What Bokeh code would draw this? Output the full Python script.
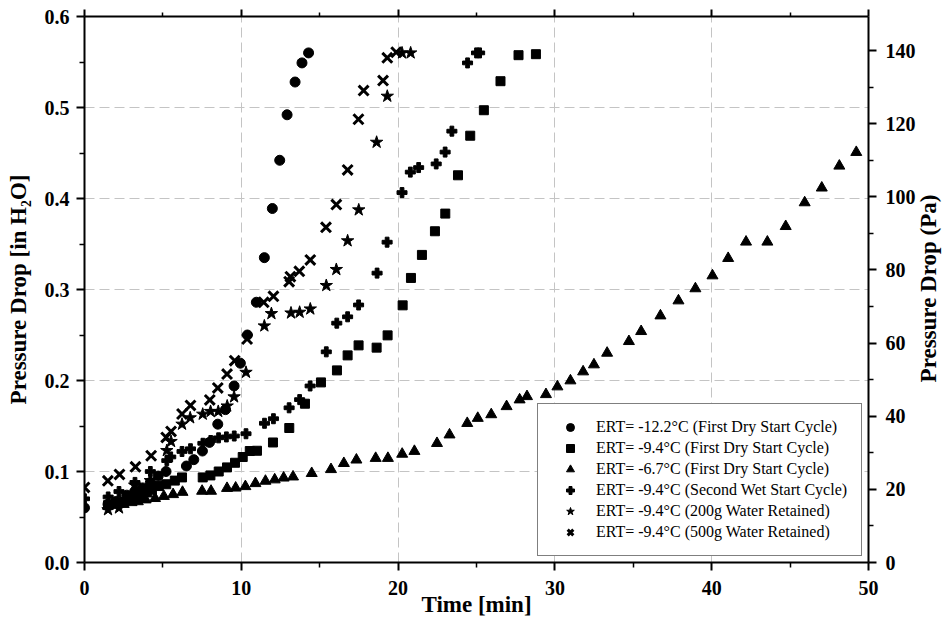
import math
from bokeh.plotting import figure
from bokeh.models import (Range1d, LinearAxis, FixedTicker, PrintfTickFormatter, Legend, LegendItem,
                          CustomJSTickFormatter, Label)
from bokeh.embed import file_html
from bokeh.resources import INLINE

# ---------------- data ----------------
t_c122 = [0, 1.5, 2.0, 2.7, 3.2, 3.7, 4.2, 4.7, 5.2, 6.5, 6.97, 7.52, 7.97, 8.5, 8.99, 9.54, 9.94,
          10.39, 10.96, 11.47, 11.98, 12.45, 12.92, 13.43, 13.87, 14.29]
dp_c122 = [0.060, 0.064, 0.067, 0.074, 0.078, 0.082, 0.088, 0.095, 0.100, 0.106, 0.113, 0.1225, 0.132,
           0.152, 0.168, 0.194, 0.219, 0.250, 0.286, 0.335, 0.389, 0.442, 0.492, 0.528, 0.549, 0.560]

t_c94 = [1.5, 2.0, 2.5, 3.0, 3.5, 4.0, 4.3, 4.74, 5.21, 5.76, 6.22, 7.54, 8.03, 8.56, 9.09, 9.6, 10.09,
         10.54, 11.0, 12.02, 13.06, 14.06, 15.08, 16.1, 16.78, 17.48, 18.63, 19.33, 20.29, 20.82, 21.52,
         22.35, 23.01, 23.82, 24.6, 25.47, 26.53, 27.68, 28.79]
dp_c94 = [0.063, 0.065, 0.067, 0.070, 0.073, 0.077, 0.080, 0.084, 0.086, 0.090, 0.0935, 0.0935, 0.0957,
          0.100, 0.1045, 0.1096, 0.1159, 0.1225, 0.1228, 0.1319, 0.1478, 0.1745, 0.1979, 0.2111, 0.2276,
          0.2386, 0.2361, 0.2496, 0.2826, 0.3127, 0.338, 0.364, 0.3834, 0.4255, 0.469, 0.497, 0.5289,
          0.5575, 0.5586]

t_c67 = [1.5, 2.0, 2.5, 3.0, 3.4, 3.9, 4.5, 5.06, 5.65, 6.25, 7.5, 8.07, 9.09, 9.64, 10.26, 10.9, 11.54,
         12.13, 12.7, 13.3, 14.49, 15.72, 16.54, 17.34, 18.57, 19.35, 20.26, 21.04, 22.48, 23.28, 24.41,
         25.08, 25.94, 26.92, 27.75, 28.22, 29.43, 30.16, 30.99, 31.8, 32.49, 33.33, 34.72, 35.5, 36.73,
         37.88, 38.96, 40.05, 41.05, 42.19, 43.55, 44.72, 45.93, 47.02, 48.14, 49.22]
dp_c67 = [0.062, 0.063, 0.064, 0.066, 0.067, 0.069, 0.0705, 0.0728, 0.0748, 0.0773, 0.0785, 0.0785,
          0.0816, 0.082, 0.0836, 0.0869, 0.0895, 0.091, 0.093, 0.0942, 0.098, 0.1023, 0.109, 0.1128,
          0.1146, 0.1146, 0.1192, 0.1223, 0.131, 0.1404, 0.153, 0.1586, 0.1626, 0.1715, 0.1789, 0.1825,
          0.1847, 0.1932, 0.1998, 0.2097, 0.2174, 0.2302, 0.243, 0.254, 0.2712, 0.2877, 0.301, 0.3152,
          0.3343, 0.3523, 0.3523, 0.3694, 0.3955, 0.4117, 0.4358, 0.4508]

t_wet = [0, 1.51, 2.2, 3.22, 4.2, 5.25, 5.5, 6.22, 6.76, 7.55, 8.05, 8.55, 9.05, 9.55, 10.3, 11.48, 12.05,
         13.05, 13.72, 14.39, 15.42, 16.09, 16.78, 17.48, 18.66, 19.3, 20.25, 20.78, 21.31, 22.43, 23.0,
         23.43, 24.43, 25.0, 25.2]
dp_wet = [0.070, 0.072, 0.078, 0.088, 0.100, 0.112, 0.116, 0.122, 0.125, 0.131, 0.134, 0.137, 0.138,
          0.139, 0.1415, 0.153, 0.158, 0.170, 0.179, 0.194, 0.2315, 0.263, 0.270, 0.283, 0.318, 0.352,
          0.4065, 0.429, 0.434, 0.438, 0.451, 0.474, 0.549, 0.560, 0.560]

t_200g = [1.5, 2.2, 3.2, 4.2, 5.25, 5.52, 6.22, 6.74, 7.54, 8.04, 8.53, 9.1, 9.54, 10.3, 11.47, 11.92,
          13.17, 13.72, 14.4, 15.42, 16.06, 16.78, 17.49, 18.63, 19.31, 20.25, 20.8]
dp_200g = [0.058, 0.060, 0.085, 0.090, 0.123, 0.133, 0.152, 0.159, 0.163, 0.166, 0.166, 0.172, 0.182,
           0.209, 0.260, 0.2735, 0.2742, 0.275, 0.2786, 0.3044, 0.322, 0.3535, 0.3875, 0.4618, 0.5124,
           0.560, 0.560]

t_500g = [0, 1.49, 2.23, 3.25, 4.25, 5.21, 5.52, 6.22, 6.76, 7.99, 8.5, 9.09, 9.58, 10.37, 11.43, 12.05,
          13.05, 13.13, 13.7, 14.4, 15.4, 16.06, 16.78, 17.47, 17.8, 19.04, 19.31, 19.88]
dp_500g = [0.0825, 0.0898, 0.0968, 0.1052, 0.1173, 0.1374, 0.144, 0.1632, 0.1726, 0.1786, 0.1918,
           0.2071, 0.2218, 0.2456, 0.2859, 0.2925, 0.3086, 0.3141, 0.320, 0.3325, 0.3683, 0.3933,
           0.4314, 0.4871, 0.5186, 0.5296, 0.5546, 0.5607]

labels = ["ERT= -12.2°C (First Dry Start Cycle)",
          "ERT= -9.4°C (First Dry Start Cycle)",
          "ERT= -6.7°C (First Dry Start Cycle)",
          "ERT= -9.4°C (Second Wet Start Cycle)",
          "ERT= -9.4°C (200g Water Retained)",
          "ERT= -9.4°C (500g Water Retained)"]

x_ticks = [0, 10, 20, 30, 40, 50]
x_minor = [5, 15, 25, 35, 45]
y_ticks = [0.0, 0.1, 0.2, 0.3, 0.4, 0.5, 0.6]
y_minor = [0.05, 0.15, 0.25, 0.35, 0.45, 0.55]
pa_ticks = [0, 20, 40, 60, 80, 100, 120, 140]
pa_minor = [10, 30, 50, 70, 90, 110, 130]
PA_PER_INH2O = 248.84
X_MAX = 50
Y_MAX = 0.6
PA_MAX = Y_MAX * PA_PER_INH2O

# ---------------- figure ----------------
FONT = "Liberation Serif"
p = figure(width=943, height=622, output_backend="svg", toolbar_location=None,
           x_range=Range1d(0, X_MAX), y_range=Range1d(0, Y_MAX),
           min_border_left=84, min_border_right=75, min_border_top=16, min_border_bottom=60)
p.outline_line_color = None
p.background_fill_color = "white"
p.border_fill_color = "white"
p.extra_y_ranges = {"pa": Range1d(0, PA_MAX)}


def style_axis(ax, ticks, minor):
    ax.ticker = FixedTicker(ticks=ticks, minor_ticks=minor)
    ax.axis_line_color = "black"
    ax.axis_line_width = 2
    ax.major_tick_line_color = "black"
    ax.major_tick_line_width = 2
    ax.minor_tick_line_color = "black"
    ax.minor_tick_line_width = 1.5
    ax.major_tick_out = 8
    ax.major_tick_in = 0
    ax.minor_tick_out = 5
    ax.minor_tick_in = 0
    ax.major_label_text_font = FONT
    ax.major_label_text_font_style = "bold"
    ax.major_label_text_font_size = "20px"
    ax.major_label_text_color = "black"
    ax.axis_label_text_font = FONT
    ax.axis_label_text_font_style = "bold"
    ax.axis_label_text_font_size = "23px"
    ax.axis_label_text_color = "black"


xa = p.xaxis[0]
style_axis(xa, x_ticks, x_minor)
xa.axis_label = "Time [min]"
xa.major_label_standoff = 10
xa.axis_label_standoff = -6

ya = p.yaxis[0]
style_axis(ya, y_ticks, y_minor)
ya.formatter = PrintfTickFormatter(format="%.1f")
ya.axis_label = "Pressure Drop [in H₂O]"
ya.major_label_standoff = 7
ya.axis_label_standoff = 11

top = LinearAxis()
style_axis(top, x_ticks, x_minor)
top.formatter = CustomJSTickFormatter(code="return ''")
top.major_label_text_font_size = "1px"
top.major_label_standoff = 0
top.major_tick_out = 7
top.minor_tick_out = 4
p.add_layout(top, "above")

right = LinearAxis(y_range_name="pa")
style_axis(right, pa_ticks, pa_minor)
right.major_label_standoff = 9
p.add_layout(right, "right")

# right-side axis title (reads bottom to top), anchored at the frame's right edge
right_title = Label(x=X_MAX, y=PA_MAX / 2, y_range_name="pa", x_offset=47, y_offset=1,
                    text="Pressure Drop (Pa)", angle=math.pi / 2,
                    text_align="center", text_baseline="top",
                    text_font=FONT, text_font_style="bold", text_font_size="23px",
                    text_color="black")
p.add_layout(right_title, "right")

p.xgrid.ticker = FixedTicker(ticks=[10, 20, 30, 40])
p.ygrid.ticker = FixedTicker(ticks=[0.1, 0.2, 0.3, 0.4, 0.5])
for g in (p.xgrid[0], p.ygrid[0]):
    g.grid_line_color = "#c4c4c4"
    g.grid_line_width = 1
    g.grid_line_dash = "10 5"

# ---------------- series ----------------
r1 = p.scatter(t_c122, dp_c122, marker="circle", size=10, color="black")
r2 = p.scatter(t_c94, dp_c94, marker="square", size=9, color="black")
r3 = p.scatter(t_c67, dp_c67, marker="triangle", size=11, color="black")
r4 = p.scatter(t_wet, dp_wet, marker="plus", size=10, color="black")
r5 = p.scatter(t_200g, dp_200g, marker="star", size=13, color="black")
r6 = p.scatter(t_500g, dp_500g, marker="x", size=14, line_width=3, color="black")

legend = Legend(items=[LegendItem(label=lab, renderers=[r]) for lab, r in
                       zip(labels, [r1, r2, r3, r4, r5, r6])],
                location="bottom_right")
legend.border_line_color = "black"
legend.border_line_width = 1.5
legend.background_fill_color = "white"
legend.background_fill_alpha = 1
legend.padding = 13
legend.spacing = 1
legend.margin = 6
legend.glyph_width = 38
legend.glyph_height = 20
legend.label_height = 20
legend.label_width = 252
legend.label_standoff = 7
legend.label_text_font = FONT
legend.label_text_font_size = "16px"
legend.label_text_color = "black"
p.add_layout(legend)

open("out.html", "w").write(file_html(p, INLINE))
